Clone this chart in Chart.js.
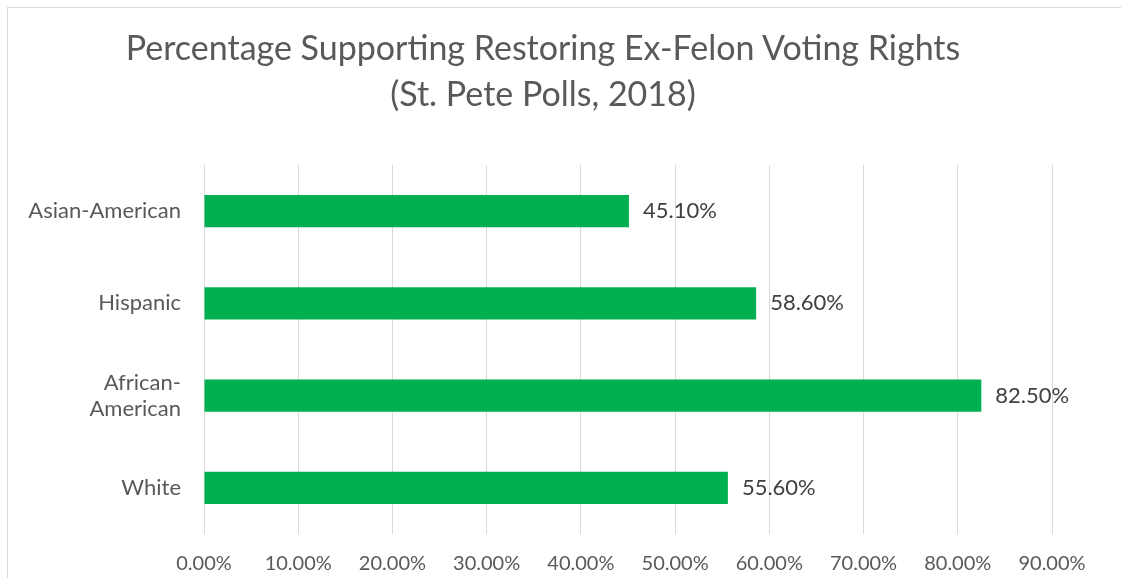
<!DOCTYPE html>
<html>
<head>
<meta charset="utf-8">
<script src="https://cdn.jsdelivr.net/npm/chart.js@4.4.1/dist/chart.umd.min.js"></script>
<style>
  html, body { margin: 0; padding: 0; background: #fff; }
  #wrap { position: relative; width: 1121px; height: 578px; overflow: hidden; }
  #frame { position: absolute; left: 7px; top: 7px; width: 1200px; height: 700px;
           border-left: 1px solid #d9d9d9; border-top: 1px solid #d9d9d9; }
  #title { position: absolute; left: 0; top: 24px; width: 1086px; text-align: center;
           font: 34px/46px Lato, "Open Sans", sans-serif; color: #595959; }
  canvas { position: absolute; left: 0; top: 0; }
</style>
</head>
<body>
<div id="wrap">
  <div id="frame"></div>
  <canvas id="chart" width="1121" height="578"></canvas>
  <div id="title">Percentage Supporting Restoring Ex-Felon Voting Rights<br>(St. Pete Polls, 2018)</div>
</div>
<script>
const groups = ["Asian-American", "Hispanic", ["African-", "American"], "White"];
const support = [45.1, 58.6, 82.5, 55.6];
const xMax = 90;
const xStep = 10;

const textGray = "#595959";
const fontFamily = "Lato, 'Open Sans', sans-serif";

// percentage text just past the end of each bar
const valueLabels = {
  id: "valueLabels",
  afterDatasetsDraw(chart) {
    const ctx = chart.ctx;
    const meta = chart.getDatasetMeta(0);
    ctx.save();
    ctx.font = "22px " + fontFamily;
    ctx.fillStyle = "#404040";
    ctx.textBaseline = "middle";
    ctx.textAlign = "left";
    meta.data.forEach((bar, i) => {
      ctx.fillText(support[i].toFixed(2) + "%", bar.x + 14, bar.y);
    });
    ctx.restore();
  }
};

const ctx = document.getElementById("chart").getContext("2d");

new Chart(ctx, {
  type: "bar",
  data: {
    labels: groups,
    datasets: [{
      data: support,
      backgroundColor: "#00b050",
      barPercentage: 0.35,
      categoryPercentage: 1
    }]
  },
  options: {
    indexAxis: "y",
    responsive: false,
    animation: false,
    // top padding leaves room for the two-line heading above the plot
    layout: { padding: { left: 0, right: 69, top: 165, bottom: 0 } },
    plugins: {
      legend: { display: false },
      tooltip: { enabled: false },
      title: { display: false }
    },
    scales: {
      x: {
        min: 0,
        max: xMax,
        ticks: {
          stepSize: xStep,
          color: textGray,
          font: { family: fontFamily, size: 20 },
          padding: 18,
          maxRotation: 0,
          callback: v => v.toFixed(2) + "%"
        },
        grid: { color: "#d9d9d9", lineWidth: 1, drawTicks: false },
        border: { display: false },
        afterFit: s => { s.height = 44; }
      },
      y: {
        ticks: {
          color: textGray,
          font: { family: fontFamily, size: 22, lineHeight: 26 / 22 },
          padding: 23
        },
        grid: { display: false, drawTicks: false },
        border: { display: false },
        afterFit: s => { s.width = 204; }
      }
    }
  },
  plugins: [valueLabels]
});
</script>
</body>
</html>
